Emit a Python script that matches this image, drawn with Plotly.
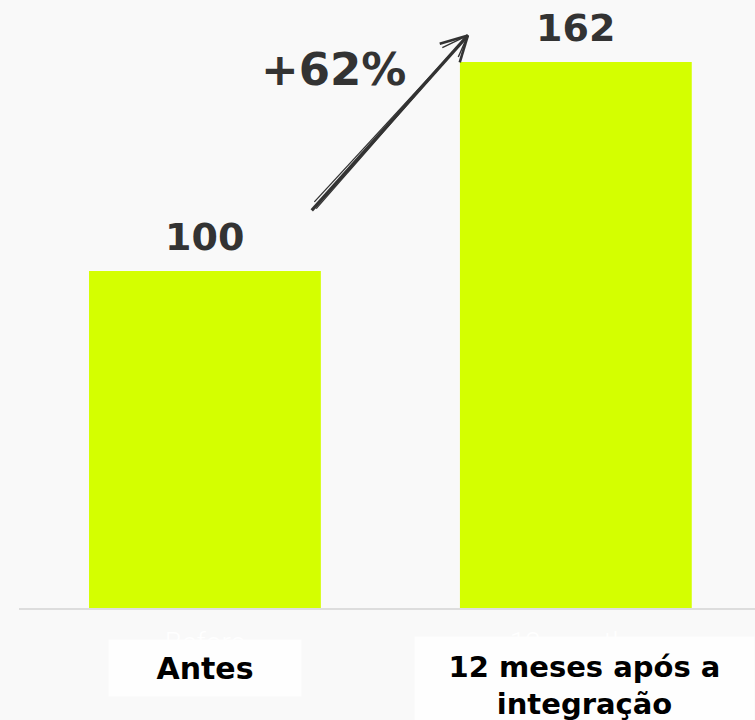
import plotly.graph_objects as go

categories = ["Before", "12 months<br>after integration"]
values = [100, 162]
value_labels = ["100", "162"]
box_labels = ["<b>Antes</b>", "<b>12 meses após a<br>integração</b>"]
growth_label = "<b>+62%</b>"

# sketchy growth arrow (data coordinates)
arrow_tip = (0.709, 169.9)
shaft_starts = [(0.288, 118.0), (0.295, 120.5), (0.300, 118.5)]
barb_ends = [(0.633, 167.4), (0.687, 161.9), (0.640, 166.3), (0.683, 163.5)]

BG = "#f9f9f9"
BAR = "#d4ff00"
DARK = "#333333"

fig = go.Figure()
fig.add_trace(go.Bar(
    x=[0, 1], y=values, width=0.625,
    marker=dict(color=BAR, line=dict(width=0)),
    hoverinfo="skip",
))

widths = [3.2, 1.3, 1.3]
for (sx, sy), w in zip(shaft_starts, widths):
    fig.add_trace(go.Scatter(
        x=[sx, arrow_tip[0]], y=[sy, arrow_tip[1]], mode="lines",
        line=dict(color=DARK, width=w), hoverinfo="skip",
    ))
for i, (bx, by) in enumerate(barb_ends):
    fig.add_trace(go.Scatter(
        x=[bx, arrow_tip[0]], y=[by, arrow_tip[1]], mode="lines",
        line=dict(color=DARK, width=2.6 if i < 2 else 1.4), hoverinfo="skip",
    ))

annotations = []
# value labels above bars
for i, (v, t) in enumerate(zip(values, value_labels)):
    annotations.append(dict(
        x=i, y=v, xref="x", yref="y", text=f"<b>{t}</b>", showarrow=False,
        yanchor="bottom", yshift=10,
        font=dict(family="DejaVu Sans", size=38, color=DARK),
    ))

annotations.append(dict(
    x=0.3477, y=159.9, xref="x", yref="y", text=growth_label, showarrow=False,
    font=dict(family="DejaVu Sans", size=45, color=DARK),
))

# white boxes with Portuguese labels
annotations.append(dict(
    x=0, y=-0.0987, xref="x", yref="paper", text=box_labels[0], showarrow=False,
    width=192, height=56, bgcolor="#fefefe", borderpad=0,
    yanchor="middle", xanchor="center",
    font=dict(family="DejaVu Sans", size=30, color="#000000"),
))
annotations.append(dict(
    x=1.0227, y=-0.1275, xref="x", yref="paper", text=box_labels[1], showarrow=False,
    width=339, height=97, bgcolor="#fefefe", borderpad=0,
    yanchor="middle", xanchor="center",
    font=dict(family="DejaVu Sans", size=29, color="#000000"),
))

fig.update_layout(
    width=755, height=720,
    margin=dict(l=19, r=0, t=0, b=112),
    paper_bgcolor=BG, plot_bgcolor=BG,
    showlegend=False,
    annotations=annotations,
    xaxis=dict(
        range=[-0.5013, 1.483], tickmode="array", tickvals=[0, 1], ticktext=categories,
        showline=True, linecolor="#dddddd", linewidth=2, showgrid=False, zeroline=False,
        ticks="", tickfont=dict(family="Roboto", size=28, color="#ffffff", weight=300),
        ticklabelstandoff=8,
    ),
    yaxis=dict(range=[0, 180.4], visible=False, showgrid=False, zeroline=False),
)

fig.write_html("out.html")
